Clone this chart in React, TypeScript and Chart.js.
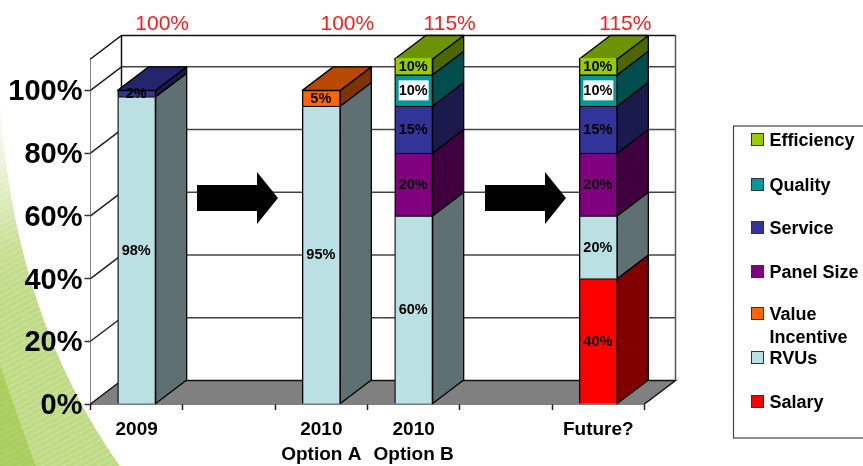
import { useEffect, useRef } from "react";
import { Chart, registerables } from "chart.js";

Chart.register(...registerables);

const categories = [["2009"], [""], ["2010", "Option A"], ["2010", "Option B"], [""], ["Future?"]];
const salary = [null, null, null, null, null, 40];
const rvus = [98, null, 95, 60, null, 20];
const valueIncentive = [null, null, 5, null, null, null];
const panelSize = [null, null, null, 20, null, 20];
const service = [2, null, null, 15, null, 15];
const quality = [null, null, null, 10, null, 10];
const efficiency = [null, null, null, 10, null, 10];
const totals = ["100%", null, "100%", "115%", null, "115%"];
const yTicks = [0, 20, 40, 60, 80, 100];

const FONT = '"Liberation Sans", Arial, sans-serif';
const DEPTH_X = 31;
const DEPTH_Y = 23.5;

// Horizontal nudge of each red total relative to its column.
const totalNudge = [25.5, 0, 26, 36, 0, 27];

function poly(ctx: CanvasRenderingContext2D, pts: number[][]) {
  ctx.beginPath();
  pts.forEach(([x, y], i) => (i ? ctx.lineTo(x, y) : ctx.moveTo(x, y)));
  ctx.closePath();
}

function shade(hex: string, f: number) {
  const n = parseInt(hex.slice(1), 16);
  const c = [(n >> 16) & 255, (n >> 8) & 255, n & 255].map((v) => Math.round(v * f));
  return `rgb(${c[0]},${c[1]},${c[2]})`;
}

// Page decoration: the green sweep in the lower-left corner.
function drawSweep(ctx: CanvasRenderingContext2D) {
  ctx.save();
  ctx.beginPath();
  ctx.moveTo(0, 100);
  ctx.bezierCurveTo(6, 195, 28, 335, 120, 466);
  ctx.lineTo(0, 466);
  ctx.closePath();
  ctx.clip();
  const g = ctx.createLinearGradient(0, 100, 0, 300);
  g.addColorStop(0, "#ffffff");
  g.addColorStop(0.4, "#e6f0cc");
  g.addColorStop(0.75, "#c6de90");
  g.addColorStop(1, "#bfda84");
  ctx.fillStyle = g;
  ctx.fillRect(0, 100, 130, 366);
  ctx.strokeStyle = "rgba(255,255,255,0.14)";
  ctx.lineWidth = 2;
  for (let i = -100; i < 600; i += 6) {
    ctx.beginPath();
    ctx.moveTo(0, i);
    ctx.lineTo(130, i - 70);
    ctx.stroke();
  }
  ctx.beginPath();
  ctx.moveTo(0, 365);
  ctx.bezierCurveTo(12, 400, 24, 435, 36, 466);
  ctx.lineTo(0, 466);
  ctx.closePath();
  ctx.fillStyle = "rgba(150,195,60,0.5)";
  ctx.fill();
  ctx.restore();
}

const walls = {
  id: "walls",
  beforeDatasetsDraw(chart: any) {
    const { ctx, chartArea: a, scales } = chart;
    const y = scales.y;
    ctx.save();
    ctx.fillStyle = "#ffffff";
    poly(ctx, [
      [a.left, a.top],
      [a.left + DEPTH_X, a.top - DEPTH_Y],
      [a.right + DEPTH_X, a.top - DEPTH_Y],
      [a.right + DEPTH_X, a.bottom - DEPTH_Y],
      [a.right, a.bottom],
      [a.left, a.bottom],
    ]);
    ctx.fill();

    ctx.fillStyle = "#808080";
    poly(ctx, [
      [a.left, a.bottom],
      [a.left + DEPTH_X, a.bottom - DEPTH_Y],
      [a.right + DEPTH_X, a.bottom - DEPTH_Y],
      [a.right, a.bottom],
    ]);
    ctx.fill();

    ctx.lineWidth = 1.5;
    yTicks.slice(1).forEach((t) => {
      const py = y.getPixelForValue(t);
      ctx.strokeStyle = "#222";
      ctx.beginPath();
      ctx.moveTo(a.left, py);
      ctx.lineTo(a.left + DEPTH_X, py - DEPTH_Y);
      ctx.stroke();
      ctx.strokeStyle = "#444";
      ctx.beginPath();
      ctx.moveTo(a.left + DEPTH_X, py - DEPTH_Y);
      ctx.lineTo(a.right + DEPTH_X, py - DEPTH_Y);
      ctx.stroke();
    });

    ctx.strokeStyle = "#111";
    ctx.beginPath();
    ctx.moveTo(a.left, a.top);
    ctx.lineTo(a.left + DEPTH_X, a.top - DEPTH_Y);
    ctx.lineTo(a.right + DEPTH_X, a.top - DEPTH_Y);
    ctx.stroke();
    ctx.beginPath();
    ctx.moveTo(a.left + DEPTH_X, a.top - DEPTH_Y);
    ctx.lineTo(a.left + DEPTH_X, a.bottom - DEPTH_Y);
    ctx.lineTo(a.right + DEPTH_X, a.bottom - DEPTH_Y);
    ctx.lineTo(a.right, a.bottom);
    ctx.moveTo(a.left + DEPTH_X, a.bottom - DEPTH_Y);
    ctx.lineTo(a.left, a.bottom);
    ctx.stroke();
    ctx.strokeStyle = "#555";
    ctx.beginPath();
    ctx.moveTo(a.right + DEPTH_X, a.top - DEPTH_Y);
    ctx.lineTo(a.right + DEPTH_X, a.bottom - DEPTH_Y);
    ctx.stroke();

    // Side and top faces of every column, extruded from the bar elements.
    ctx.lineJoin = "round";
    chart.data.labels.forEach((_: unknown, idx: number) => {
      let topMost: { el: any; color: string } | null = null;
      chart.data.datasets.forEach((ds: any, di: number) => {
        if (ds.data[idx] == null) return;
        const el = chart.getDatasetMeta(di).data[idx];
        const r = el.x + el.width / 2;
        const top = Math.max(el.y, a.top);
        ctx.fillStyle = shade(ds.backgroundColor, 0.5);
        poly(ctx, [
          [r, el.base],
          [r, top],
          [r + DEPTH_X, top - DEPTH_Y],
          [r + DEPTH_X, el.base - DEPTH_Y],
        ]);
        ctx.fill();
        ctx.strokeStyle = "#000";
        ctx.lineWidth = 1.3;
        ctx.stroke();
        topMost = { el, color: ds.backgroundColor };
      });
      if (topMost) {
        const { el, color } = topMost as { el: any; color: string };
        const top = Math.max(el.y, a.top);
        const l = el.x - el.width / 2;
        const r = el.x + el.width / 2;
        ctx.fillStyle = shade(color, 0.72);
        poly(ctx, [
          [l, top],
          [l + DEPTH_X, top - DEPTH_Y],
          [r + DEPTH_X, top - DEPTH_Y],
          [r, top],
        ]);
        ctx.fill();
        ctx.strokeStyle = "#000";
        ctx.lineWidth = 1.3;
        ctx.stroke();
      }
    });
    ctx.restore();
  },
};

function drawArrow(ctx: CanvasRenderingContext2D, x: number) {
  ctx.fillStyle = "#000";
  poly(ctx, [
    [x, 185],
    [x + 60, 185],
    [x + 60, 172],
    [x + 81, 198],
    [x + 60, 224],
    [x + 60, 211],
    [x, 211],
  ]);
  ctx.fill();
}

const overlay = {
  id: "overlay",
  beforeDraw(chart: any) {
    drawSweep(chart.ctx);
  },
  afterDatasetsDraw(chart: any) {
    const { ctx, chartArea: a, scales } = chart;
    ctx.save();

    // Segment value labels.
    ctx.textAlign = "center";
    ctx.textBaseline = "middle";
    ctx.font = `bold 14.5px ${FONT}`;
    chart.data.datasets.forEach((ds: any, di: number) => {
      ds.data.forEach((v: number | null, i: number) => {
        if (v == null) return;
        const el = chart.getDatasetMeta(di).data[i];
        const cy = (Math.max(el.y, a.top) + el.base) / 2;
        if (ds.label === "Quality") {
          ctx.fillStyle = "#fff";
          ctx.fillRect(el.x - 15, cy - 10, 30, 20);
        }
        ctx.fillStyle = "#000";
        ctx.fillText(`${v}%`, el.x - 0.5, cy + 0.5);
      });
    });

    // Red column totals above the plot.
    ctx.font = `21px ${FONT}`;
    ctx.fillStyle = "#ff1a1a";
    totals.forEach((t, i) => {
      if (t) ctx.fillText(t, scales.x.getPixelForValue(i) + totalNudge[i], 24);
    });

    drawArrow(ctx, 197);
    drawArrow(ctx, 485);

    // Legend, newest component first.
    ctx.fillStyle = "#fff";
    ctx.strokeStyle = "#444";
    ctx.lineWidth = 1.2;
    ctx.fillRect(733.5, 126, 140, 312);
    ctx.strokeRect(733.5, 126, 140, 312);
    const rows: Record<string, number> = {
      Efficiency: 140,
      Quality: 185,
      Service: 228,
      "Panel Size": 272,
      "Value Incentive": 314,
      RVUs: 358,
      Salary: 402,
    };
    ctx.textAlign = "left";
    ctx.font = `bold 18px ${FONT}`;
    chart.data.datasets.forEach((ds: any) => {
      const ry = rows[ds.label];
      ctx.fillStyle = ds.backgroundColor;
      ctx.strokeStyle = "#333";
      ctx.lineWidth = 1;
      ctx.fillRect(751.5, ry - 6.5, 12, 12);
      ctx.strokeRect(751.5, ry - 6.5, 12, 12);
      ctx.fillStyle = "#000";
      if (ds.label === "Value Incentive") {
        ctx.fillText("Value", 769.5, ry + 1);
        ctx.fillText("Incentive", 769.5, ry + 24);
      } else {
        ctx.fillText(ds.label, 769.5, ry + 1);
      }
    });
    ctx.restore();
  },
};

function bar(label: string, data: (number | null)[], color: string) {
  return {
    label,
    data,
    backgroundColor: color,
    borderColor: "#000",
    borderWidth: 1.3,
    barThickness: 38,
    clip: { left: 3, right: 3, top: 1, bottom: 2 },
  };
}

export default function App() {
  const ref = useRef<HTMLCanvasElement>(null);
  useEffect(() => {
    const chart = new Chart(ref.current as HTMLCanvasElement, {
      type: "bar",
      data: {
        labels: categories,
        datasets: [
          bar("Salary", salary, "#ff0000"),
          bar("RVUs", rvus, "#bbe0e3"),
          bar("Value Incentive", valueIncentive, "#ff6600"),
          bar("Panel Size", panelSize, "#800080"),
          bar("Service", service, "#333399"),
          bar("Quality", quality, "#009999"),
          bar("Efficiency", efficiency, "#99cc00"),
        ],
      } as any,
      options: {
        responsive: false,
        animation: false,
        layout: { autoPadding: false, padding: { left: 0, top: 59, right: 218.5, bottom: 0 } },
        plugins: { legend: { display: false }, tooltip: { enabled: false } },
        scales: {
          x: {
            stacked: true,
            afterFit: (s: any) => {
              s.height = 62;
            },
            grid: { drawOnChartArea: false, tickLength: 6, tickColor: "#222", tickWidth: 1.5 },
            border: { color: "#000", width: 1.5 },
            ticks: {
              color: "#000",
              maxRotation: 0,
              autoSkip: false,
              padding: 7,
              font: { family: FONT, weight: "bold", size: 19, lineHeight: 1.33 },
            },
          },
          y: {
            stacked: true,
            min: 0,
            max: 110,
            afterFit: (s: any) => {
              s.width = 90.5;
            },
            afterBuildTicks: (s: any) => {
              s.ticks = yTicks.map((value) => ({ value }));
            },
            grid: { drawOnChartArea: false, tickLength: 6, tickColor: "#333", tickWidth: 1.5 },
            border: { color: "#000", width: 1.5 },
            ticks: {
              color: "#000",
              padding: 2,
              labelOffset: 2,
              callback: (v: any) => `${v}%`,
              font: { family: FONT, weight: "bold", size: 29 },
            },
          },
        },
      } as any,
      plugins: [walls, overlay],
    });
    return () => chart.destroy();
  }, []);
  return (
    <div style={{ position: "absolute", left: 0, top: 0, width: 863, height: 466, overflow: "hidden", background: "#fff" }}>
      <canvas ref={ref} width={863} height={466} style={{ display: "block" }} />
    </div>
  );
}
